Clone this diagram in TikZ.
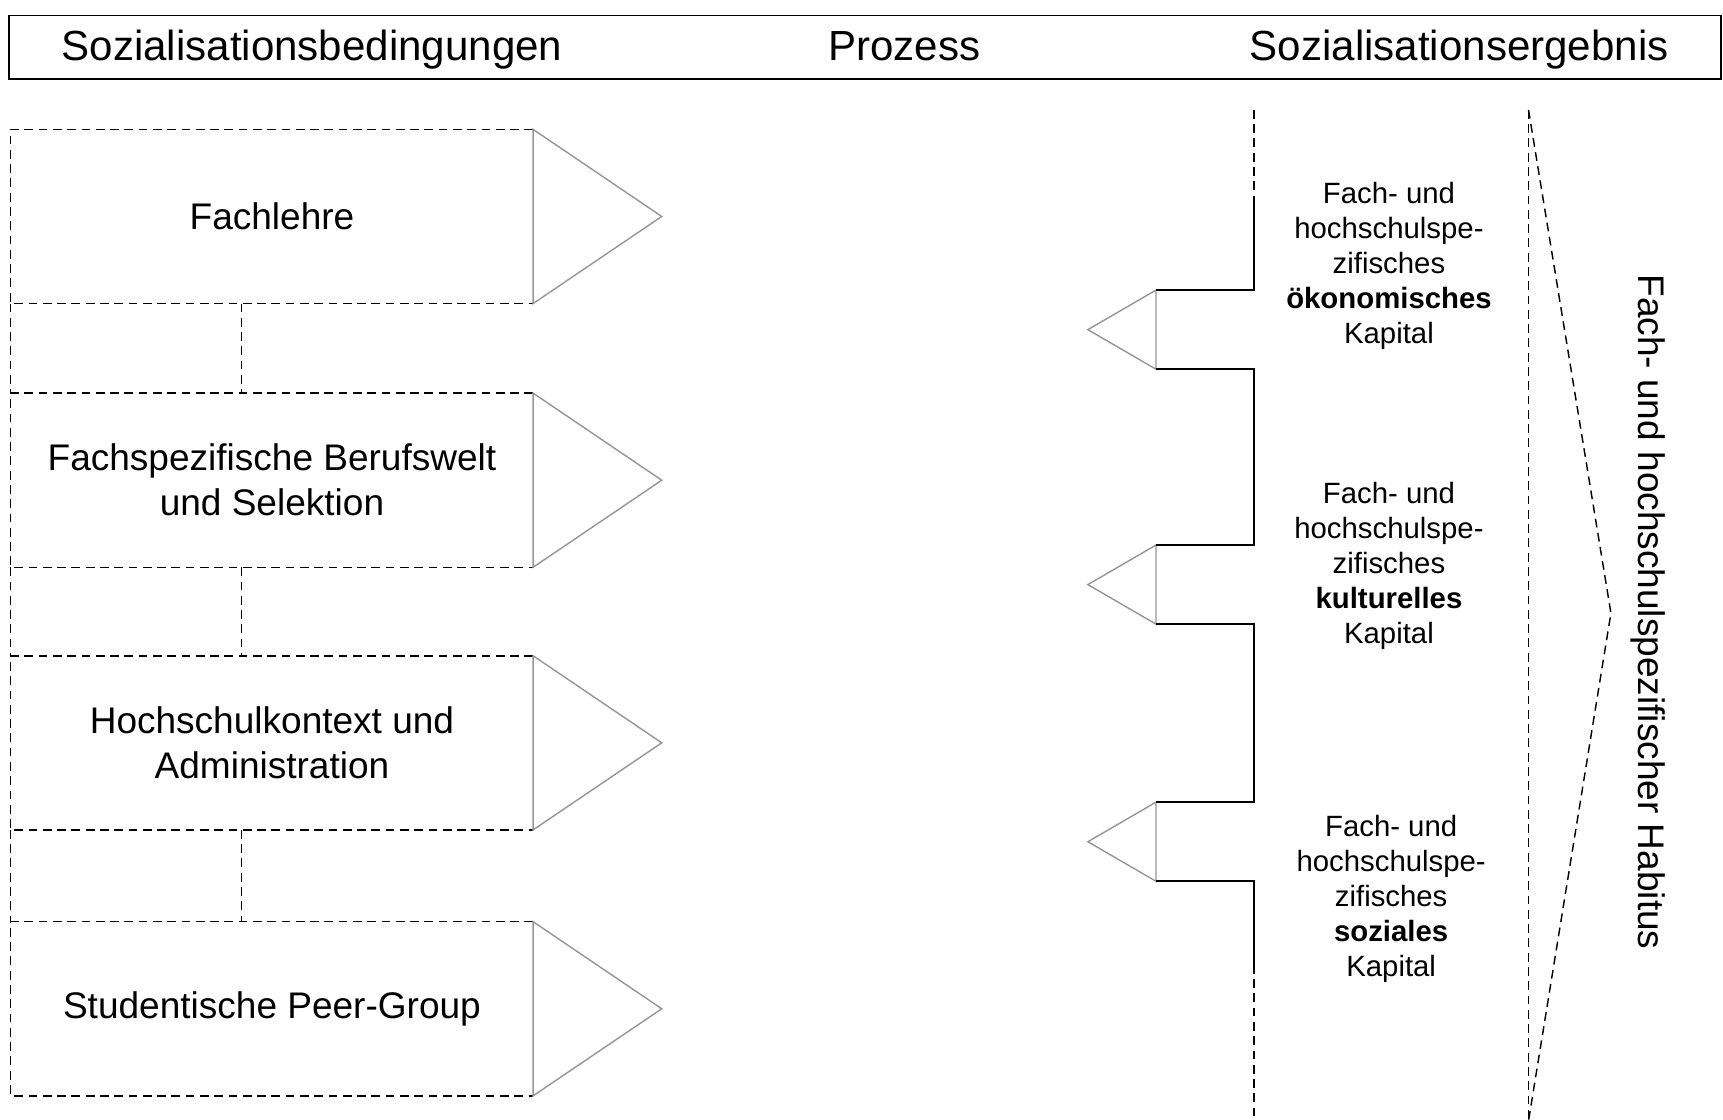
\documentclass[tikz,border=0pt]{standalone}
\usepackage{fontspec}
\setmainfont{Liberation Sans}
\usepackage{xcolor}
\usepackage{tikz}
\usetikzlibrary{calc}
\definecolor{spgray}{RGB}{150,150,150}
\newcommand\kopffont{\fontsize{38.3}{45}\selectfont}
\newcommand\boxfont{\fontsize{33.7}{41}\selectfont}
\newcommand\kapfont{\fontsize{26.7}{32}\selectfont}
\tikzstyle{dsh}=[line width=1.3pt,dash pattern=on 8pt off 5pt]
\tikzstyle{spitze}=[line width=1.3pt,spgray]
\tikzstyle{klammer}=[line width=1.5pt]
\tikzstyle{kopftext}=[font=\kopffont,anchor=base,inner sep=0pt]
\tikzstyle{bed}=[minimum width=475pt,minimum height=158pt,inner sep=0pt,align=center,font=\boxfont]
\tikzstyle{kap}=[align=center,font=\kapfont,inner sep=0pt]
\begin{document}
\begin{tikzpicture}[x=1pt,y=-1pt]
	\useasboundingbox (0,0) rectangle (1568,1019.2);
	% Kopfzeile
	\node[draw,line width=1.5pt,minimum width=1558pt,minimum height=58pt,inner sep=0pt] (kopf) at (787,43) {};
	\node[kopftext] (bedingungen) at (284,55) {Sozialisationsbedingungen};
	\node[kopftext] (prozess) at (823,55) {Prozess};
	\node[kopftext] (ergebnis) at (1328,55) {Sozialisationsergebnis};
	% Bedingungen
	\node[bed] (lehre) at (247.5,197) {Fachlehre};
	\node[bed] (beruf) at (247.5,437) {Fachspezifische Berufswelt\\und Selektion};
	\node[bed] (hochschule) at (247.5,676) {Hochschulkontext und\\Administration};
	\node[bed] (peer) at (247.5,918) {Studentische Peer-Group};
	\foreach \n in {lehre,beruf,hochschule,peer} {
		\draw[dsh] (\n.north east) -- (\n.north west) -- (\n.south west) -- (\n.south east);
		\draw[spitze] (\n.north east) -- ([xshift=117pt]\n.east) -- (\n.south east) -- cycle;
	}
	\foreach \a/\b in {lehre/beruf,beruf/hochschule,hochschule/peer} {
		\draw[dsh] (\a.south west) -- (\b.north west);
		\draw[dsh] ([xshift=210pt]\a.south west) -- ([xshift=210pt]\b.north west);
	}
	% Kapitalformen
	\node[kap] (oekon) at (1264,242) {Fach- und\\hochschulspe-\\zifisches\\\textbf{ökonomisches}\\Kapital};
	\node[kap] (kultur) at (1264,515) {Fach- und\\hochschulspe-\\zifisches\\\textbf{kulturelles}\\Kapital};
	\node[kap] (sozial) at (1266,818) {Fach- und\\hochschulspe-\\zifisches\\\textbf{soziales}\\Kapital};
	\foreach \n/\y in {1/300,2/532,3/766} {
		\coordinate (oben\n) at (1052,\y-36);
		\coordinate (unten\n) at (1052,\y+36);
		\coordinate (tip\n) at (990,\y);
		\draw[spitze] (oben\n) -- (tip\n) -- (unten\n) -- cycle;
	}
	\coordinate (kl-a) at (1141,100);
	\coordinate (kl-b) at (1141,185);
	\coordinate (kl-c) at (1141,878);
	\coordinate (kl-d) at (1141,1020);
	\draw[dsh] (kl-a) -- (kl-b);
	\draw[klammer] (kl-b) |- (oben1);
	\draw[klammer] (unten1) -- ++(89,0) |- (oben2);
	\draw[klammer] (unten2) -- ++(89,0) |- (oben3);
	\draw[klammer] (unten3) -- ++(89,0) -- (kl-c);
	\draw[dsh] (kl-c) -- (kl-d);
	% Habitus
	\coordinate (hab-o) at (1391,100);
	\coordinate (hab-s) at (1466,558);
	\coordinate (hab-u) at (1391,1020);
	\draw[dsh] (hab-o) -- (hab-u);
	\draw[dsh] (hab-o) -- (hab-s) -- (hab-u);
	\node[rotate=-90,font=\boxfont] (habitus) at (1500,557) {Fach- und hochschulspezifischer Habitus};
\end{tikzpicture}
\end{document}
